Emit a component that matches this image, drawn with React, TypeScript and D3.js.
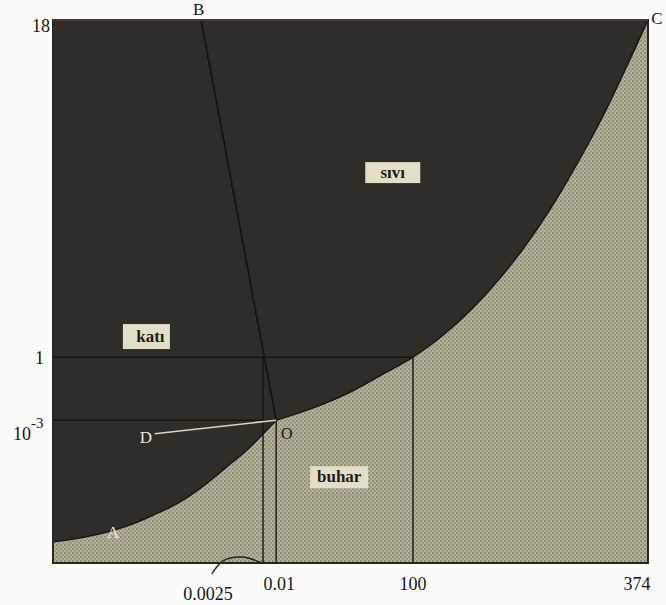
import React from 'react';
import * as d3 from 'd3';

// Schematic (non-linear) phase diagram of water; positions in normalized units 0..100
const xTickLabels = ['0.0025', '0.01', '100', '374'];
const xTickPos = [35.3, 37.5, 60.5, 100];
const yTickLabels = ['18', '1', '10'];
const yTickSup = ['', '', '-3'];
const yTickPos = [100, 37.9, 26.3];

// Sublimation curve A -> O
const sublimationX = [0, 4.5, 9.1, 12.4, 16.8, 21.3, 25.9, 29.2, 32.6, 34.8, 37.5];
const sublimationY = [3.9, 4.6, 5.7, 6.8, 8.8, 11.2, 14.7, 17.7, 20.8, 23.2, 26.3];
// Vaporization curve O -> C
const vaporX = [37.5, 41.5, 45, 50, 55, 60.5, 65.5, 70.5, 75, 79.5, 83, 86.5, 90, 93, 96, 98, 100];
const vaporY = [26.3, 27.7, 29.1, 31.5, 34.5, 37.9, 41.9, 46.9, 52.3, 58.6, 64.2, 70.5, 77.3, 83.6, 90.5, 95.2, 100];
// Fusion line B -> O
const fusionX = [24.9, 37.5];
const fusionY = [100, 26.3];
// D line (metastable extension)
const dLineX = [17.1, 37.5];
const dLineY = [23.8, 26.3];

// bracket under 0.0025
const bracketX = [26.7, 28.6, 31.8, 35.1];
const bracketY = [-2.0, 0.4, 1.1, 0];

const regionLabels = ['katı', 'sıvı', 'buhar'];
const regionX = [15.7, 57.1, 48.1];
const regionY = [41.7, 71.9, 15.8];

const pointLabels = ['A', 'B', 'C', 'D', 'O'];
const pointX = [10.1, 24.5, 101.5, 15.6, 39.3];
const pointY = [5.7, 102.0, 100.3, 23.2, 24.0];

const W = 666;
const H = 605;
const L = 53, R = 648, T = 20, B = 563;

export default function App() {
  const x = d3.scaleLinear().domain([0, 100]).range([L, R]);
  const y = d3.scaleLinear().domain([0, 100]).range([B, T]);

  const line = d3
    .line<[number, number]>()
    .x((d) => x(d[0]))
    .y((d) => y(d[1]))
    .curve(d3.curveMonotoneX);
  const straight = d3
    .line<[number, number]>()
    .x((d) => x(d[0]))
    .y((d) => y(d[1]));

  const sub: [number, number][] = sublimationX.map((v, i) => [v, sublimationY[i]]);
  const vap: [number, number][] = vaporX.map((v, i) => [v, vaporY[i]]);
  const subPath = line(sub) as string;
  const vapPath = line(vap) as string;
  const darkPath =
    `M${x(0)},${y(100)} L` + subPath.slice(1) + ' L' + vapPath.slice(1) + 'Z';

  const fusion: [number, number][] = fusionX.map((v, i) => [v, fusionY[i]]);
  const dLine: [number, number][] = dLineX.map((v, i) => [v, dLineY[i]]);
  const bracket: [number, number][] = bracketX.map((v, i) => [v, bracketY[i]]);
  const bracketLine = d3
    .line<[number, number]>()
    .x((d) => x(d[0]))
    .y((d) => y(d[1]))
    .curve(d3.curveCatmullRom);

  const serif = '"Liberation Serif", "DejaVu Serif", serif';
  const boxW = [47, 55, 58];
  const boxH = [25, 21, 22];

  // guide lines: [x1,y1,x2,y2]
  const guides: [number, number, number, number][] = [
    [0, yTickPos[1], xTickPos[2], yTickPos[1]],
    [0, yTickPos[2], xTickPos[1], yTickPos[2]],
    [xTickPos[0], 0, xTickPos[0], yTickPos[1]],
    [xTickPos[1], 0, xTickPos[1], yTickPos[2]],
    [xTickPos[2], 0, xTickPos[2], yTickPos[1]],
  ];

  const xLabelDy = [37, 27, 27, 27];
  const xLabelDx = [-55, 3, 0, -11];

  return (
    <svg
      width={W}
      height={H}
      style={{ position: 'absolute', left: 0, top: 0, background: '#fbfbf9' }}
    >
      <defs>
        <pattern id="vap" width="4" height="4" patternUnits="userSpaceOnUse">
          <rect width="4" height="4" fill="#b4b199" />
          <rect width="2" height="2" fill="#918f77" />
          <rect x="2" y="2" width="2" height="2" fill="#9c9a82" />
        </pattern>
      </defs>

      {/* light (vapour) background */}
      <rect x={L} y={T} width={R - L} height={B - T} fill="url(#vap)" />
      {/* dark (solid+liquid) region */}
      <path d={darkPath} fill="#2f2d27" />

      {/* guide lines */}
      {guides.map((g, i) => (
        <line
          key={i}
          x1={x(g[0])}
          y1={y(g[1])}
          x2={x(g[2])}
          y2={y(g[3])}
          stroke="#151410"
          strokeWidth={1.4}
        />
      ))}

      {/* curves */}
      <path d={subPath} fill="none" stroke="#1a1813" strokeWidth={1.5} />
      <path d={vapPath} fill="none" stroke="#1a1813" strokeWidth={1.5} />
      <path d={straight(fusion) as string} fill="none" stroke="#161510" strokeWidth={1.8} />
      <path d={straight(dLine) as string} fill="none" stroke="#d9d5c2" strokeWidth={1.6} />

      {/* frame */}
      <rect x={L} y={T} width={R - L} height={B - T} fill="none" stroke="#2a2722" strokeWidth={2} />
      <line x1={L} y1={T} x2={R} y2={T} stroke="#6b4a48" strokeWidth={1} />

      {/* bracket */}
      <path d={bracketLine(bracket) as string} fill="none" stroke="#222" strokeWidth={1.4} />

      {/* region labels */}
      {regionLabels.map((t, i) => (
        <g key={t}>
          <rect
            x={x(regionX[i]) - boxW[i] / 2}
            y={y(regionY[i]) - boxH[i] / 2}
            width={boxW[i]}
            height={boxH[i]}
            fill="#e2dfc6"
          />
          <text
            x={x(regionX[i]) + (i === 0 ? 4 : 0)}
            y={y(regionY[i]) + 5}
            textAnchor="middle"
            fontFamily={serif}
            fontWeight="bold"
            fontSize={17}
            fill="#1e1c18"
          >
            {t}
          </text>
        </g>
      ))}

      {/* point labels */}
      {pointLabels.map((t, i) => (
        <text
          key={t}
          x={x(pointX[i])}
          y={y(pointY[i]) + 6}
          textAnchor="middle"
          fontFamily={serif}
          fontSize={t === 'O' ? 16 : 17}
          fill={t === 'A' || t === 'D' ? '#ece9de' : '#151515'}
        >
          {t}
        </text>
      ))}

      {/* y tick labels */}
      {yTickLabels.map((t, i) =>
        yTickSup[i] ? (
          <text key={t} x={13} y={y(yTickPos[i]) + 20} fontFamily={serif} fontSize={18} fill="#151515">
            {t}
            <tspan dy={-12} fontSize={15}>
              {yTickSup[i]}
            </tspan>
          </text>
        ) : (
          <text
            key={t}
            x={i === 0 ? 50 : 44}
            y={y(yTickPos[i]) + (i === 0 ? 12 : 7)}
            textAnchor="end"
            fontFamily={serif}
            fontSize={18}
            fill="#151515"
          >
            {t}
          </text>
        )
      )}

      {/* x tick labels */}
      {xTickLabels.map((t, i) => (
        <text
          key={t}
          x={x(xTickPos[i]) + xLabelDx[i]}
          y={B + xLabelDy[i]}
          textAnchor="middle"
          fontFamily={serif}
          fontSize={18}
          fill="#151515"
        >
          {t}
        </text>
      ))}
    </svg>
  );
}
